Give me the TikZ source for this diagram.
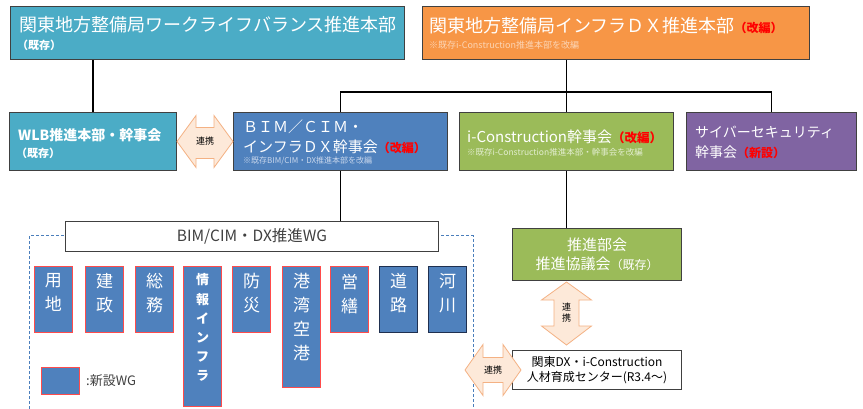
\documentclass[tikz,border=0pt]{standalone}
\usepackage{fontspec}
\setmainfont{Noto Sans CJK JP}
\usetikzlibrary{calc}
\definecolor{cteal}{HTML}{4BACC6}
\definecolor{corange}{HTML}{F79646}
\definecolor{cblue}{HTML}{4F81BD}
\definecolor{cgreen}{HTML}{9BBB59}
\definecolor{cpurple}{HTML}{8064A2}
\definecolor{cborder}{HTML}{404040}
\definecolor{cred}{HTML}{FF0000}
\definecolor{cwgred}{HTML}{FF4B4B}
\definecolor{cwgdark}{HTML}{1F3050}
\definecolor{carrfill}{HTML}{FDE9D9}
\definecolor{carrline}{HTML}{F4B183}
\definecolor{cdash}{HTML}{4A7EBB}
\definecolor{csuborange}{HTML}{FCD5B5}
\definecolor{csubblue}{HTML}{C9D7EC}
\definecolor{csubgreen}{HTML}{E2EDCF}
\newcommand{\fsz}[1]{\fontsize{#1}{#1}\selectfont}
\newcommand{\redtag}[2]{{\color{cred}\fontsize{#1}{#1}\selectfont\bfseries #2}}
\tikzset{
  box/.style={draw=cborder, line width=1pt, inner sep=0pt, anchor=north west},
  wgbox/.style={draw=cwgred, line width=1pt, fill=cblue, inner sep=0pt, anchor=north west, minimum width=38},
  wgdark/.style={wgbox, draw=cwgdark},
  wgtext/.style={anchor=north, inner sep=0pt, text=white, align=center, font=\fontsize{17}{24}\selectfont},
  ttl/.style={anchor=west, inner sep=0pt, text=white},
  conn/.style={draw=black, line width=1.2pt},
  arr/.style={draw=carrline, fill=carrfill, line width=0.8pt, line join=miter},
  arrtxt/.style={inner sep=0pt, align=center, font=\fontsize{9}{11}\selectfont, text=black}
}
\begin{document}
\begin{tikzpicture}[x=1pt,y=-1pt]
\useasboundingbox (0,0) rectangle (863,409);
\fill[white] (0,0) rectangle (863,409);

% dashed frame
\draw[cdash, line width=1pt, dash pattern=on 3pt off 2pt] (29,409) -- (29,236) -- (473,236) -- (473,409);

% top boxes
\node[box, fill=cteal, minimum width=394, minimum height=53] (tl) at (10,6) {};
\node[ttl, font=\fsz{18}] (tlt) at (19,25) {関東地方整備局ワークライフバランス推進本部};
\node[ttl, font=\fsz{11}\bfseries] (tls) at (17,45) {（既存）};

\node[box, fill=corange, minimum width=387, minimum height=53] (tr) at (422,6) {};
\node[ttl, font=\fsz{18}] (trt) at (429,26) {関東地方整備局インフラＤＸ推進本部\redtag{12}{（改編）}};
\node[ttl, font=\fsz{9}, text=csuborange] (trs) at (429,45) {※既存i-Construction推進本部を改編};

% second row
\node[box, fill=cteal, minimum width=167, minimum height=58] (wlb) at (9,112) {};
\node[ttl, font=\fsz{14}\bfseries] (wlbt) at (18,135) {WLB推進本部・幹事会};
\node[ttl, font=\fsz{11}\bfseries] (wlbs) at (16,153) {（既存）};

\node[box, fill=cblue, minimum width=214, minimum height=58] (bim) at (233,112) {};
\node[ttl, font=\fsz{15}] (bimt1) at (243,127) {ＢＩＭ／ＣＩＭ・};
\node[ttl, font=\fsz{15}] (bimt2) at (243,147) {インフラＤＸ幹事会\redtag{12}{（改編）}};
\node[ttl, font=\fsz{8}, text=csubblue] (bims) at (243,161) {※既存BIM/CIM・DX推進本部を改編};

\node[box, fill=cgreen, minimum width=214, minimum height=58] (icon) at (459,112) {};
\node[ttl, font=\fsz{15}] (icont) at (467,137) {i-Construction幹事会\redtag{12.5}{（改編）}};
\node[ttl, font=\fsz{8.5}, text=csubgreen] (icons) at (467,152) {※既存i-Construction推進本部・幹事会を改編};

\node[box, fill=cpurple, minimum width=170, minimum height=58] (cyb) at (686,112) {};
\node[ttl, font=\fsz{14}] (cybt1) at (695,132) {サイバーセキュリティ};
\node[ttl, font=\fsz{14}] (cybt2) at (695,152) {幹事会\redtag{12}{（新設）}};

% connectors
\draw[conn] (wlb.north) -- (wlb.north |- tl.south);
\draw[conn] (icon.north |- tr.south) -- (icon.north);
\draw[conn] (bim.north) -- ++(0,-20) -| (cyb.north);

% WG header
\node[box, fill=white, minimum width=373, minimum height=30, text=cborder, font=\fsz{15.5}] (wg) at (65,221) {BIM/CIM・DX推進WG};
\draw[conn] (bim.south) -- (bim.south |- wg.north);

% WG boxes
\node[wgbox, minimum height=66] (w1) at (34,266) {};
\node[wgtext] (w1t) at ($(w1.north)+(0,7.5)$) {用\\地};
\node[wgbox, minimum height=66] (w2) at (85,266) {};
\node[wgtext] (w2t) at ($(w2.north)+(0,7.5)$) {建\\政};
\node[wgbox, minimum height=66] (w3) at (135,266) {};
\node[wgtext] (w3t) at ($(w3.north)+(0,7.5)$) {総\\務};
\node[wgbox, minimum height=140] (w4) at (183,266) {};
\node[wgtext, font=\fontsize{13}{19.2}\selectfont\bfseries] (w4t) at ($(w4.north)+(0,7.5)$) {情\\報\\イ\\ン\\フ\\ラ};
\node[wgbox, minimum height=66] (w5) at (232,266) {};
\node[wgtext] (w5t) at ($(w5.north)+(0,7.5)$) {防\\災};
\node[wgbox, minimum height=121] (w6) at (282,266) {};
\node[wgtext] (w6t) at ($(w6.north)+(0,7.5)$) {港\\湾\\空\\港};
\node[wgbox, minimum height=66] (w7) at (330,266) {};
\node[wgtext] (w7t) at ($(w7.north)+(0,7.5)$) {営\\繕};
\node[wgdark, minimum height=66] (w8) at (379,266) {};
\node[wgtext] (w8t) at ($(w8.north)+(0,7.5)$) {道\\路};
\node[wgdark, minimum height=66] (w9) at (428,266) {};
\node[wgtext] (w9t) at ($(w9.north)+(0,7.5)$) {河\\川};

% legend
\node[wgbox, minimum height=27] (leg) at (41,367) {};
\node[anchor=west, inner sep=0pt, font=\fsz{13}, text=cborder] (legt) at (86,381) {:新設WG};

% right lower boxes
\node[box, fill=cgreen, minimum width=169, minimum height=52] (sk) at (512,228) {};
\node[inner sep=0pt, text=white, align=center, font=\fontsize{15}{19}\selectfont] (skt) at (sk.center) {推進部会\\推進協議会{\fsz{12}（既存）}};
\draw[conn] (icon.south) -- (icon.south |- sk.north);

\node[box, fill=white, minimum width=169, minimum height=39] (ctr) at (512,350) {};
\node[inner sep=0pt, text=black, align=center, font=\fontsize{12}{14.5}\selectfont] (ctrt) at (ctr.center) {関東DX・i-Construction\\人材育成センター(R3.4～)};

% double arrows
\filldraw[arr] (wlb.east) -- ++(19,-26) -- ++(0,12) -- ++(18,0) -- ++(0,-12) -- ++(19,26)
  -- ++(-19,26) -- ++(0,-9) -- ++(-18,0) -- ++(0,9) -- cycle;
\node[arrtxt] (a1t) at ($(wlb.east)!0.5!(bim.west)$) {連携};

\filldraw[arr] (icon.south |- sk.south) ++(0,1) -- ++(25,18) -- ++(-12.5,0) -- ++(0,26) -- ++(12.5,0)
  -- ++(-25,19) -- ++(-25,-19) -- ++(12.5,0) -- ++(0,-26) -- ++(-12.5,0) -- cycle;
\node[arrtxt] (a2t) at ($(icon.south |- sk.south)+(0,32)$) {連\\携};

\filldraw[arr] ($(ctr.west)+(-47,0)$) -- ++(18,-25.5) -- ++(0,13) -- ++(20,0) -- ++(0,-13) -- ++(18,25.5)
  -- ++(-18,25.5) -- ++(0,-13) -- ++(-20,0) -- ++(0,13) -- cycle;
\node[arrtxt] (a3t) at ($(ctr.west)+(-19,0)$) {連携};
\end{tikzpicture}
\end{document}
